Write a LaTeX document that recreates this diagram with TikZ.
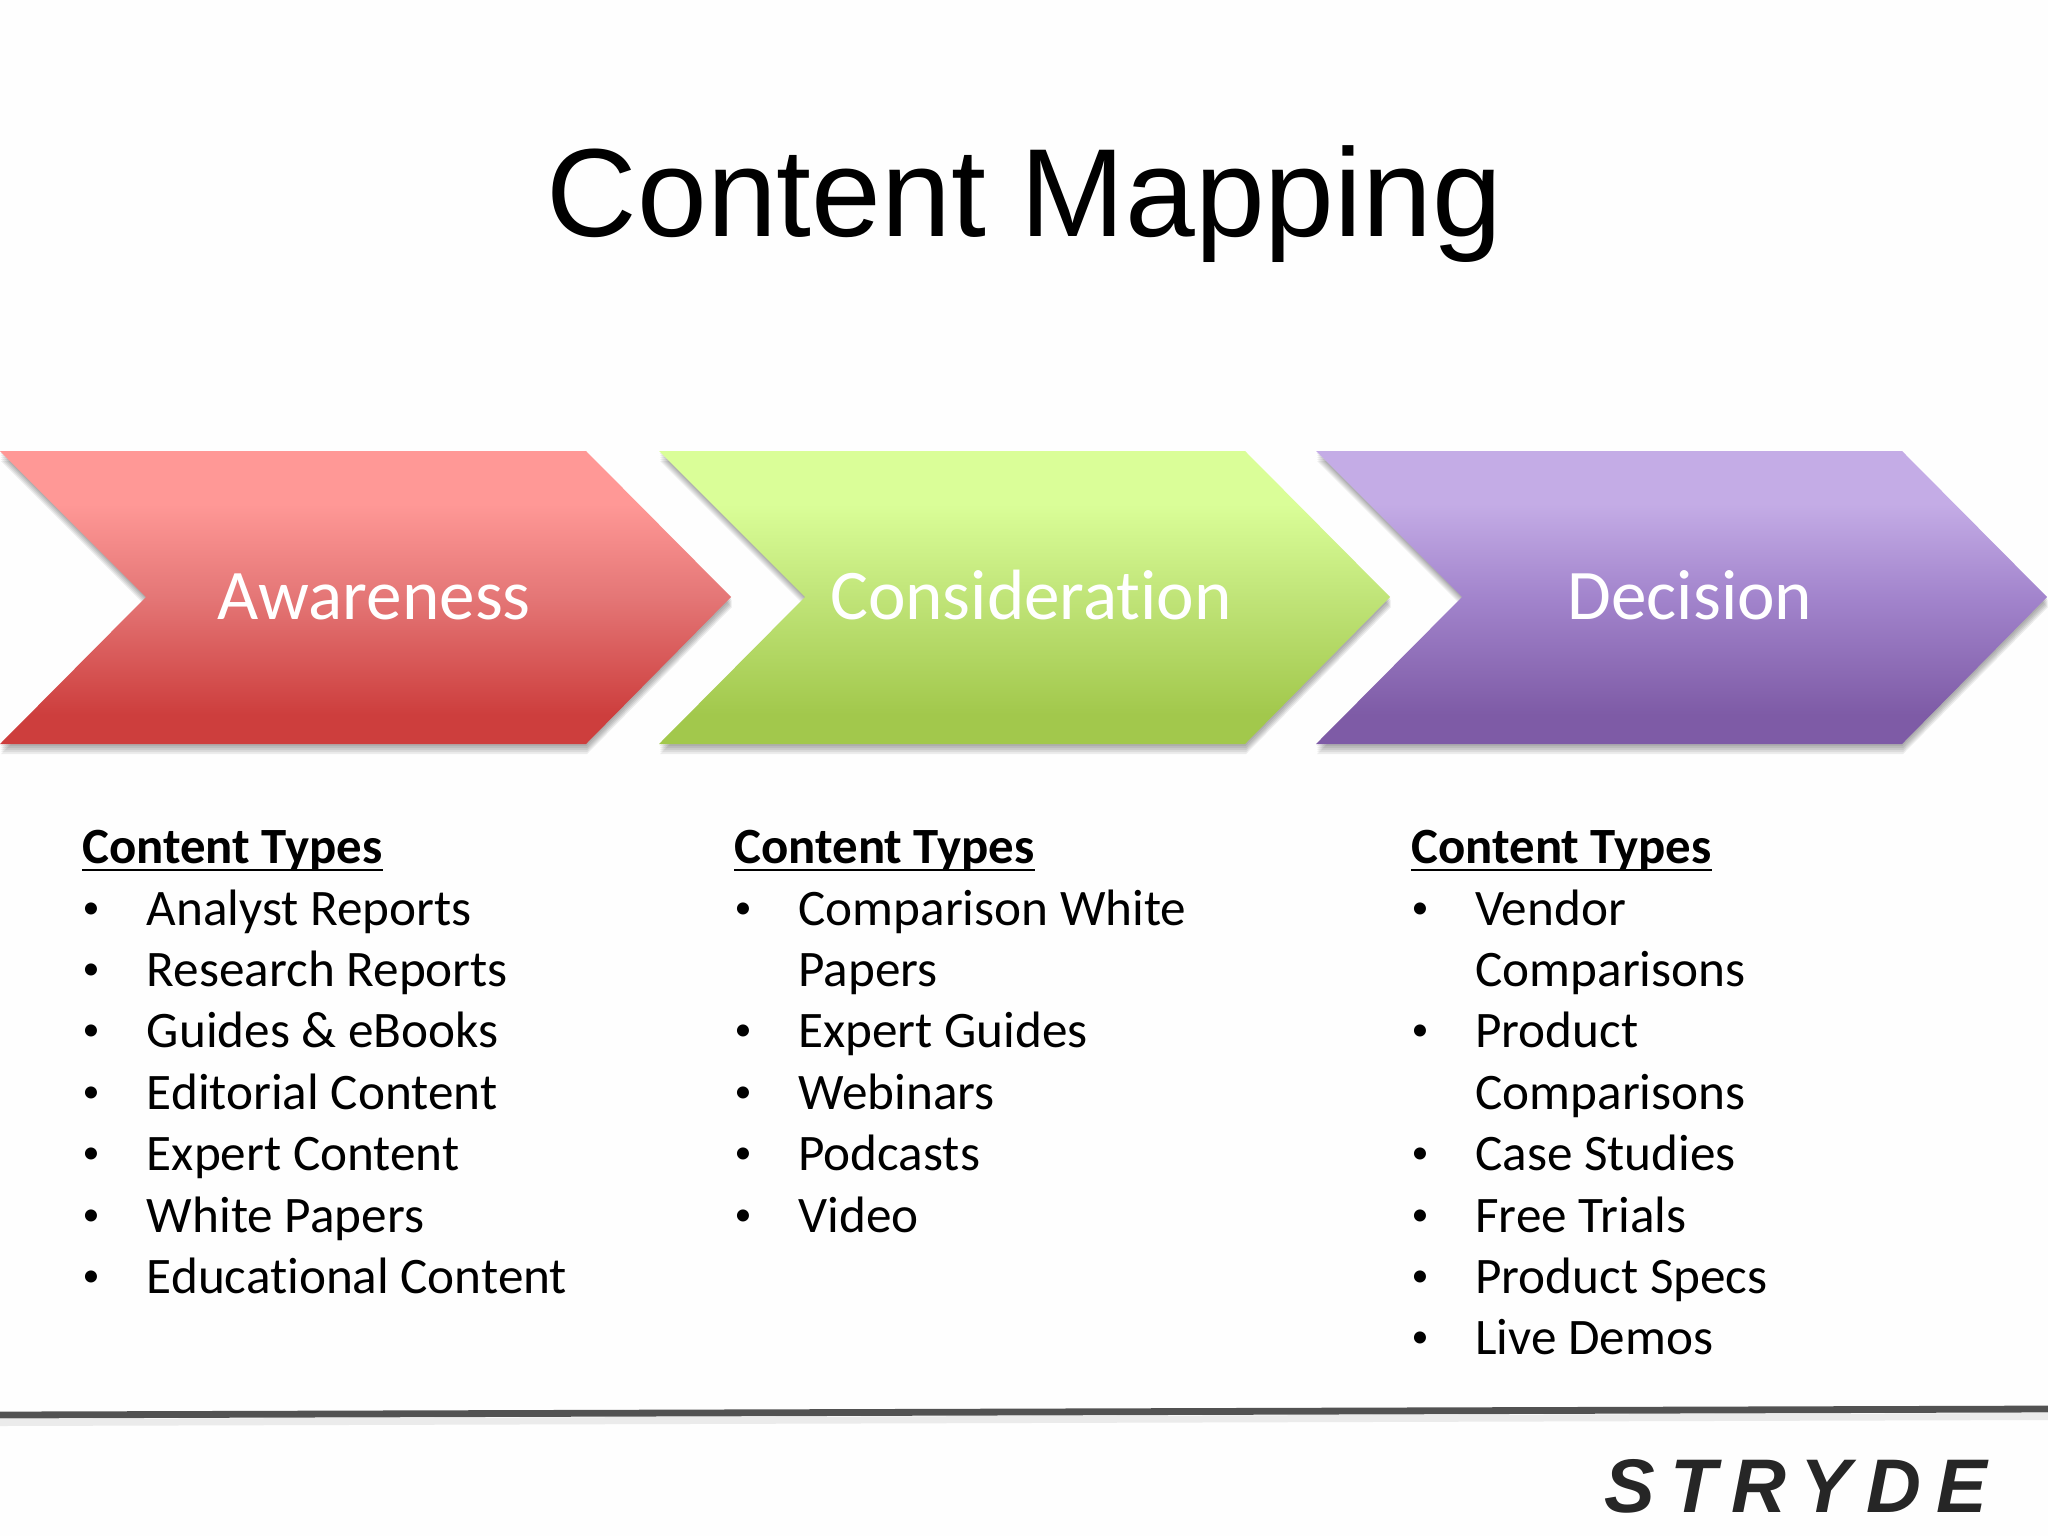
\documentclass[tikz,border=0pt]{standalone}
\usepackage{fontspec}
\setmainfont[Ligatures=NoCommon,Contextuals=NoAlternate]{Carlito}
\newfontfamily\titlefont{Liberation Sans}
\newfontfamily\logofont[LetterSpace=20]{Liberation Sans}
\usetikzlibrary{calc}
\definecolor{redA}{RGB}{255,152,150}
\definecolor{redB}{RGB}{228,118,118}
\definecolor{redC}{RGB}{205,62,61}
\definecolor{grnA}{RGB}{218,254,152}
\definecolor{grnB}{RGB}{192,228,120}
\definecolor{grnC}{RGB}{162,200,76}
\definecolor{purA}{RGB}{196,172,230}
\definecolor{purB}{RGB}{162,132,204}
\definecolor{purC}{RGB}{126,91,166}
\definecolor{pagebg}{RGB}{254,254,254}
\pgfdeclareverticalshading{redgrad}{100bp}{color(0bp)=(redC);color(25bp)=(redC);color(30bp)=(redC);color(50bp)=(redB);color(66bp)=(redA);color(75bp)=(redA);color(100bp)=(redA)}
\pgfdeclareverticalshading{grngrad}{100bp}{color(0bp)=(grnC);color(25bp)=(grnC);color(30bp)=(grnC);color(50bp)=(grnB);color(66bp)=(grnA);color(75bp)=(grnA);color(100bp)=(grnA)}
\pgfdeclareverticalshading{purgrad}{100bp}{color(0bp)=(purC);color(25bp)=(purC);color(30bp)=(purC);color(50bp)=(purB);color(66bp)=(purA);color(75bp)=(purA);color(100bp)=(purA)}
\tikzset{
  bodyline/.style={anchor=base west,inner sep=0pt,font=\fontsize{25.6}{30}\selectfont,text=black},
  headline/.style={anchor=base west,inner sep=0pt,font=\fontsize{25.4}{30}\selectfont\bfseries,text=black},
  headrule/.style={line width=1.2pt,black},
  bulletmark/.style={anchor=base,inner sep=0pt,font=\fontsize{17}{20}\selectfont,text=black},
  arrowlabel/.style={anchor=base,inner sep=0pt,font=\fontsize{35.6}{42}\selectfont,text=white},
  softshadow/.style={fill=black,fill opacity=0.07,draw=none},
}
\newcommand{\chevronpath}[1]{(#1,451) -- (#1+586,451) -- (#1+731,597) -- (#1+586,744) -- (#1,744) -- (#1+146,597) -- cycle}
\begin{document}
\begin{tikzpicture}[x=0.5pt,y=-0.5pt]
\useasboundingbox (0,0) rectangle (2048,1536);
\fill[pagebg] (0,0) rectangle (2048,1536);
\node[anchor=base,inner sep=0pt,font=\titlefont\fontsize{62.7}{70}\selectfont] (title) at (1024.5,236) {Content Mapping};
% chevrons
\foreach \xo/\sh in {0/redgrad,659/grngrad,1316/purgrad}{
  \foreach \d/\e in {10/1,8/1,6/1,4/1,2/0.5}{
    \fill[softshadow,shift={(\e,\d)}] \chevronpath{\xo};
  }
  \shade[shading=\sh] \chevronpath{\xo};
}
\node[arrowlabel] (aw) at (374,619) {Awareness};
\node[arrowlabel] (co) at (1031,619) {Consideration};
\node[arrowlabel] (de) at (1690,619) {Decision};
% column 1
\node[headline] (h1) at (82,863) {Content Types};
\draw[headrule] ($(h1.base west)+(0,7)$) -- ($(h1.base east)+(0,7)$);
\foreach \t [count=\i from 0] in {Analyst Reports,Research Reports,Guides \& eBooks,Editorial Content,Expert Content,White Papers,Educational Content}{
  \node[bulletmark] (ba\i) at (91,{918+61.4*\i}) {•};
  \node[bodyline] (ta\i) at (146.5,{925+61.4*\i}) {\t};
}
% column 2
\node[headline] (h2) at (734,863) {Content Types};
\draw[headrule] ($(h2.base west)+(0,7)$) -- ($(h2.base east)+(0,7)$);
\foreach \t/\b [count=\i from 0] in {Comparison White/1,Papers/0,Expert Guides/1,Webinars/1,Podcasts/1,Video/1}{
  \ifnum\b=1 \node[bulletmark] (bb\i) at (743,{918+61.4*\i}) {•};\fi
  \node[bodyline] (tb\i) at (798,{925+61.4*\i}) {\t};
}
% column 3
\node[headline] (h3) at (1411,863) {Content Types};
\draw[headrule] ($(h3.base west)+(0,7)$) -- ($(h3.base east)+(0,7)$);
\foreach \t/\b [count=\i from 0] in {Vendor/1,Comparisons/0,Product/1,Comparisons/0,Case Studies/1,Free Trials/1,Product Specs/1,Live Demos/1}{
  \ifnum\b=1 \node[bulletmark] (bc\i) at (1420,{918+61.4*\i}) {•};\fi
  \node[bodyline] (tc\i) at (1475,{925+61.4*\i}) {\t};
}
% footer rule
\fill[black!8] (0,1419) -- (2048,1413) -- (2048,1420) -- (0,1426) -- cycle;
\coordinate (ruleL) at (0,1415);
\coordinate (ruleR) at (2048,1409);
\draw[line width=3.4pt,color=black!68] (ruleL) -- (ruleR);
% logo
\node[anchor=base west,inner sep=0pt,font=\logofont\itshape\bfseries\fontsize{38}{40}\selectfont,text=black!85] (logo) at (1604,1512) {STRYDE};
\end{tikzpicture}
\end{document}
